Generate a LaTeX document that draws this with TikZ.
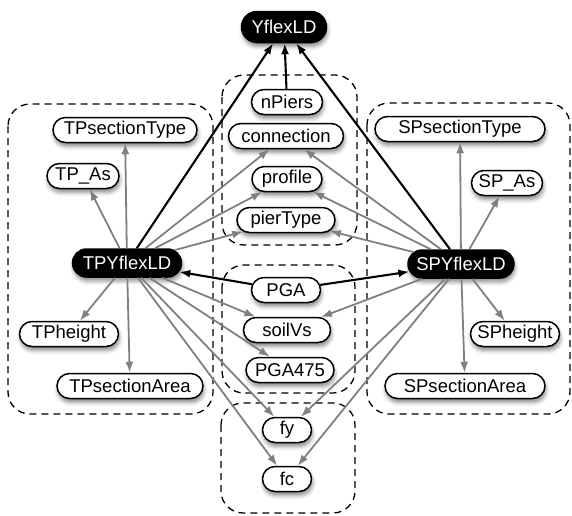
\documentclass[tikz,border=0pt]{standalone}
\usepackage{fontspec}
\setmainfont{Liberation Sans}
\usetikzlibrary{shapes.misc,arrows.meta,shadows.blur}

\definecolor{edgegray}{RGB}{128,128,128}

\tikzset{
  var/.style={rounded rectangle, draw=black, line width=1.5pt, fill=white,
    minimum height=25pt, inner xsep=3pt, inner ysep=0pt,
    font=\fontsize{18.5}{20}\selectfont,
    blur shadow={shadow xshift=1pt, shadow yshift=-4pt,
      shadow blur radius=4pt, shadow opacity=45}},
  outvar/.style={var, fill=black, text=white, minimum height=28pt},
  group/.style={draw=black, line width=1.3pt, dash pattern=on 7pt off 5pt,
    rounded corners=22pt},
  dep/.style={draw=edgegray, line width=1.8pt,
    -{Latex[length=11pt,width=8pt]}},
  key/.style={draw=black, line width=2.1pt,
    -{Latex[length=11pt,width=8pt]}},
}

\begin{document}
\begin{tikzpicture}[x=1pt, y=-1pt]
\useasboundingbox (0,0) rectangle (572,515);

% dashed groupings
\draw[group] (8,104) rectangle (213,414);
\draw[group] (222,75) rectangle (357,245);
\draw[group] (222,265) rectangle (355,393);
\draw[group] (221,403) rectangle (355,513);
\draw[group] (367,103) rectangle (570,414);

% output variable
\node[outvar, minimum width=91pt, minimum height=31pt] (Y) at (284,27) {YflexLD};

% shared structural variables
\node[var, minimum width=77pt]  (nPiers)     at (287,102) {nPiers};
\node[var, minimum width=121pt] (connection) at (286,136) {connection};
\node[var, minimum width=76pt]  (profile)    at (287,179) {profile};
\node[var, minimum width=104pt] (pierType)   at (286,220) {pierType};

% TP side
\node[var, minimum width=150pt] (TPsecType) at (125,130) {TPsectionType};
\node[var, minimum width=78pt]  (TPAs)      at (83,176)  {TP\_As};
\node[outvar, minimum width=115pt] (TPY)    at (127,263) {TPYflexLD};
\node[var, minimum width=105pt] (TPheight)  at (69,334)  {TPheight};
\node[var, minimum width=152pt] (TPsecArea) at (130,386) {TPsectionArea};

% SP side
\node[var, minimum width=176pt] (SPsecType) at (460,129) {SPsectionType};
\node[var, minimum width=77pt]  (SPAs)      at (507,183) {SP\_As};
\node[outvar, minimum width=112pt] (SPY)    at (461,264) {SPYflexLD};
\node[var, minimum width=95pt]  (SPheight)  at (515,334) {SPheight};
\node[var, minimum width=166pt] (SPsecArea) at (465,386) {SPsectionArea};

% site variables
\node[var, minimum width=75pt] (PGA)    at (286,290) {PGA};
\node[var, minimum width=93pt] (soilVs) at (287,330) {soilVs};
\node[var, minimum width=94pt] (PGA475) at (290,370) {PGA475};

% material variables
\node[var, minimum width=55pt] (fy) at (287,430) {fy};
\node[var, minimum width=55pt] (fc) at (287,479) {fc};

% main dependencies
\draw[key] (TPY) -- (Y);
\draw[key] (nPiers) -- (Y);
\draw[key] (SPY) -- (Y);
\draw[key] (PGA) -- (TPY);
\draw[key] (PGA) -- (SPY);

% TP dependencies
\foreach \t in {TPsecType,TPAs,connection,profile,pierType,TPheight,TPsecArea,soilVs,PGA475,fy,fc}
  \draw[dep] (TPY) -- (\t);

% SP dependencies
\foreach \t in {SPsecType,SPAs,connection,profile,pierType,SPheight,SPsecArea,soilVs,fy,fc}
  \draw[dep] (SPY) -- (\t);

\end{tikzpicture}
\end{document}
